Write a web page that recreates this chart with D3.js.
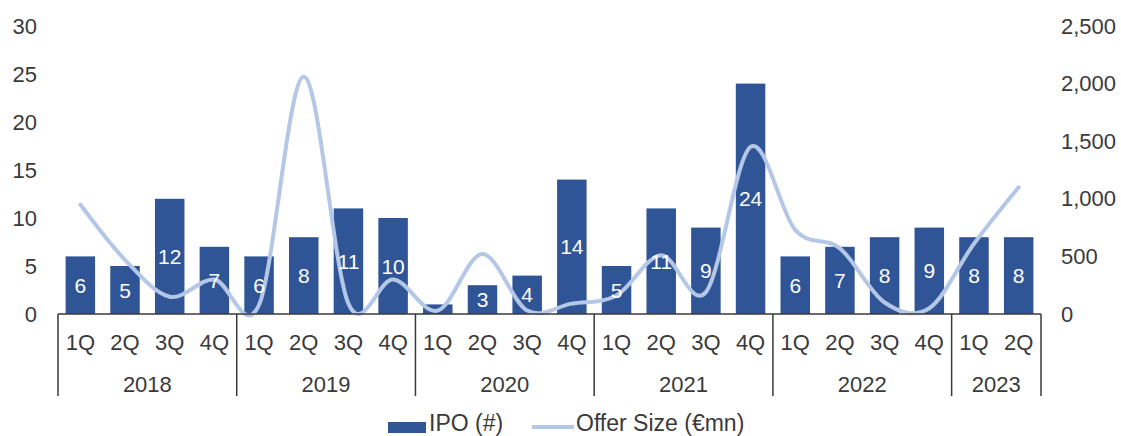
<!DOCTYPE html>
<html>
<head>
<meta charset="utf-8">
<script src="https://cdn.jsdelivr.net/npm/d3@7"></script>
<style>
  body { margin: 0; background: #fff; }
  svg text { font-family: "Liberation Sans", Arial, sans-serif; fill: #3a3a3a; }
</style>
</head>
<body>
<div id="chart"></div>
<script>
const years = ["2018", "2018", "2018", "2018", "2019", "2019", "2019", "2019",
               "2020", "2020", "2020", "2020", "2021", "2021", "2021", "2021",
               "2022", "2022", "2022", "2022", "2023", "2023"];
const quarters = ["1Q", "2Q", "3Q", "4Q", "1Q", "2Q", "3Q", "4Q", "1Q", "2Q", "3Q", "4Q",
                  "1Q", "2Q", "3Q", "4Q", "1Q", "2Q", "3Q", "4Q", "1Q", "2Q"];
const ipoCount = [6, 5, 12, 7, 6, 8, 11, 10, 1, 3, 4, 14, 5, 11, 9, 24, 6, 7, 8, 9, 8, 8];
const offerSize = [950, 470, 150, 300, 80, 2060, 90, 300, 30, 520, 30, 90,
                   160, 510, 190, 1450, 730, 570, 100, 50, 610, 1100];
const leftTicks = [0, 5, 10, 15, 20, 25, 30];
const rightTicks = [0, 500, 1000, 1500, 2000, 2500];

(function () {
    let width = 1121, height = 436;
    let svg = d3.select("#chart")
        .append("svg")
        .attr("width", width)
        .attr("height", height);

    let idx = d3.range(ipoCount.length);
    let x = d3.scaleBand()
        .domain(idx)
        .range([58, 1041])
        .paddingInner(0.34)
        .paddingOuter(0.17);
    let y = d3.scaleLinear().domain([0, 30]).range([314, 26]);
    let y2 = d3.scaleLinear().domain([0, 2500]).range([314, 26]);

    // left axis labels
    svg.append("g")
        .attr("transform", "translate(37,0)")
        .call(d3.axisLeft(y).tickValues(leftTicks).tickSize(0).tickPadding(0))
        .call(g => g.select(".domain").remove())
        .selectAll("text")
        .attr("font-size", "22px")
        .attr("font-family", null);

    // right axis labels
    svg.append("g")
        .attr("transform", "translate(1061,0)")
        .call(d3.axisRight(y2).tickValues(rightTicks).tickSize(0).tickPadding(0)
            .tickFormat(d3.format(",")))
        .call(g => g.select(".domain").remove())
        .selectAll("text")
        .attr("font-size", "22px")
        .attr("font-family", null);

    // bars
    svg.selectAll(".bar")
        .data(ipoCount)
        .enter()
        .append("rect")
        .attr("class", "bar")
        .attr("x", (_, i) => x(i))
        .attr("y", d => y(d))
        .attr("width", x.bandwidth())
        .attr("height", d => y(0) - y(d))
        .attr("fill", "#2f5597");

    // offer size line
    let line = d3.line()
        .x((_, i) => x(i) + x.bandwidth() / 2)
        .y(d => y2(d))
        .curve(d3.curveCatmullRom.alpha(0));
    svg.append("path")
        .datum(offerSize)
        .attr("d", line)
        .attr("fill", "none")
        .attr("stroke", "#b4c7e7")
        .attr("stroke-width", 4)
        .attr("stroke-linecap", "round");

    // bar labels (the 1-IPO bar has none)
    svg.selectAll(".lbl")
        .data(idx.filter(i => ipoCount[i] > 1))
        .enter()
        .append("text")
        .attr("class", "lbl")
        .attr("x", i => x(i) + x.bandwidth() / 2)
        .attr("y", i => (y(ipoCount[i]) + y(0)) / 2)
        .attr("dy", "0.36em")
        .attr("text-anchor", "middle")
        .attr("font-size", "21px")
        .style("fill", "#fff")
        .text(i => ipoCount[i]);

    // category axis
    let step = x.step();
    let left = 58;
    svg.append("line")
        .attr("x1", left).attr("x2", 1041)
        .attr("y1", 314).attr("y2", 314)
        .attr("stroke", "#3a3a3a").attr("stroke-width", 1.5);

    svg.selectAll(".q")
        .data(quarters)
        .enter()
        .append("text")
        .attr("x", (_, i) => x(i) + x.bandwidth() / 2)
        .attr("y", 342)
        .attr("dy", "0.36em")
        .attr("text-anchor", "middle")
        .attr("font-size", "22px")
        .text(d => d);

    let groups = d3.groups(idx, i => years[i]);
    let bounds = [left];
    groups.forEach(g => bounds.push(left + step * (g[1][g[1].length - 1] + 1)));
    svg.selectAll(".div")
        .data(bounds)
        .enter()
        .append("line")
        .attr("x1", d => d).attr("x2", d => d)
        .attr("y1", 314).attr("y2", 396)
        .attr("stroke", "#3a3a3a").attr("stroke-width", 1.5);

    svg.selectAll(".yr")
        .data(groups)
        .enter()
        .append("text")
        .attr("x", (_, i) => (bounds[i] + bounds[i + 1]) / 2)
        .attr("y", 384)
        .attr("dy", "0.36em")
        .attr("text-anchor", "middle")
        .attr("font-size", "22px")
        .text(d => d[0]);

    // legend
    let lg = svg.append("g");
    lg.append("rect")
        .attr("x", 388).attr("y", 422)
        .attr("width", 38).attr("height", 11)
        .attr("fill", "#2f5597");
    lg.append("text")
        .attr("x", 429).attr("y", 431)
        .attr("font-size", "23px")
        .text("IPO (#)");
    lg.append("line")
        .attr("x1", 532).attr("x2", 574)
        .attr("y1", 427).attr("y2", 427)
        .attr("stroke", "#b4c7e7").attr("stroke-width", 4);
    lg.append("text")
        .attr("x", 576).attr("y", 431)
        .attr("font-size", "23px")
        .text("Offer Size (€mn)");
})()
</script>
</body>
</html>
